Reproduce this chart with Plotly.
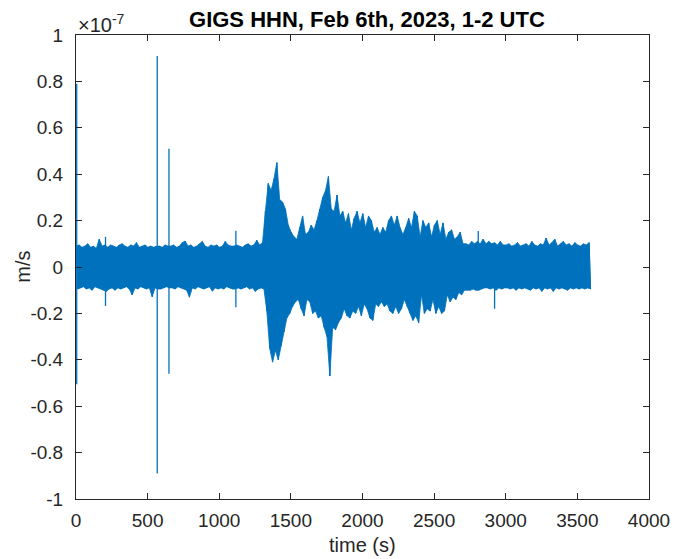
import plotly.graph_objects as go

# GIGS HHN velocity record, Feb 6th 2023, 01:00-02:00 UTC.
# Per 20 s window: peak (upper) and trough (lower) ground velocity in nm/s,
# with isolated impulsive glitches listed separately below.
window_start_s = [20 * i for i in range(180)]

upper_nm_s = [
    9.0, 9.5, 8.5, 9.0, 10.0, 8.5, 9.0, 8.0, 12.0, 9.0,
    9.5, 8.5, 9.5, 9.0, 8.5, 9.5, 10.0, 9.0, 8.5, 9.5,
    9.0, 10.5, 8.5, 9.0, 9.5, 8.5, 9.0, 8.5, 9.0, 9.0,
    8.5, 9.5, 9.0, 9.0, 9.5, 8.5, 9.0, 10.5, 11.2, 9.0,
    9.5, 8.5, 9.0, 10.0, 11.0, 9.0, 8.5, 9.5, 9.0, 9.5,
    8.5, 9.0, 11.0, 9.5, 9.0, 9.0, 9.5, 9.0, 8.5, 9.5,
    10.0, 9.0, 9.5, 11.5, 9.5, 10.5,
    # P / S arrivals of the Kahramanmaras sequence
    24.0, 36.0, 33.0, 38.0, 45.0, 29.0, 28.0, 25.0, 18.0, 15.0,
    13.0, 12.0, 17.0, 22.0, 14.0, 15.0, 18.0, 16.0, 20.0, 25.0,
    30.0, 33.0, 39.0, 25.0, 24.0, 31.0, 22.0, 24.0, 19.0, 23.0,
    16.0, 21.0, 24.0, 19.0, 23.0, 17.0, 22.0, 20.0, 15.0, 17.0,
    14.0, 17.0, 15.0, 20.0, 22.0, 18.0, 22.0, 17.0, 14.0, 17.0,
    21.0, 17.0, 24.0, 22.0, 13.0, 20.0, 17.0, 19.0, 13.0, 18.0,
    20.0, 14.0, 19.0, 12.0, 15.0, 16.0, 12.0, 13.0, 15.0, 10.0,
    10.0, 9.5, 11.0, 10.0, 11.0, 10.0, 12.0, 10.0, 11.0, 10.0,
    10.5, 9.5, 11.0, 9.5,
    # coda
    9.5, 10.0, 9.0, 9.5, 10.5, 9.0, 9.5, 10.0, 9.0, 11.0,
    9.5, 9.0, 10.0, 9.5, 12.5, 9.5, 10.5, 12.0, 9.0, 10.0,
    11.0, 9.5, 10.0, 9.0, 10.5, 9.5, 9.0, 10.0, 9.5, 10.5,
]

lower_nm_s = [
    -9.5, -9.0, -8.5, -9.5, -9.0, -10.0, -8.5, -9.0, -9.5, -10.0,
    -10.5, -9.5, -9.0, -10.0, -9.0, -9.5, -9.0, -8.5, -9.5, -12.0,
    -9.0, -9.5, -8.5, -9.0, -9.5, -9.0, -12.8, -9.0, -9.5, -9.5,
    -9.0, -8.5, -9.0, -9.0, -9.5, -8.5, -9.0, -9.5, -10.0, -13.0,
    -9.0, -9.5, -8.5, -9.0, -9.5, -9.0, -8.5, -10.4, -9.0, -9.5,
    -9.0, -9.5, -8.5, -9.0, -9.5, -9.5, -9.0, -9.5, -9.0, -8.5,
    -9.5, -9.0, -10.5, -9.5, -9.0, -9.5,
    -19.0, -35.0, -41.0, -36.0, -40.0, -34.0, -28.0, -22.0, -20.0, -17.0,
    -15.0, -14.0, -18.0, -21.0, -14.0, -15.0, -20.0, -19.0, -22.0, -21.0,
    -26.0, -30.0, -47.0, -26.0, -27.0, -24.0, -22.0, -18.0, -21.0, -22.0,
    -19.0, -20.0, -17.0, -21.0, -16.0, -18.0, -22.0, -23.0, -16.0, -17.0,
    -15.0, -17.0, -16.0, -19.0, -20.0, -17.0, -20.0, -18.0, -14.0, -17.0,
    -20.0, -23.0, -21.0, -24.0, -12.0, -20.0, -18.0, -19.0, -14.0, -20.0,
    -17.0, -20.0, -19.0, -12.0, -15.0, -13.0, -14.0, -11.0, -12.0, -10.0,
    -10.0, -10.0, -9.5, -10.0, -10.0, -9.5, -9.0, -9.0, -9.5, -9.0,
    -10.0, -9.0, -9.5, -9.0,
    -9.0, -9.5, -9.0, -10.0, -9.0, -9.5, -9.0, -9.5, -10.0, -9.0,
    -9.5, -9.0, -10.5, -9.0, -9.5, -9.0, -10.5, -9.0, -9.5, -9.0,
    -9.5, -10.0, -9.0, -9.5, -9.0, -9.5, -9.0, -9.5, -9.0, -9.5,
]

# Impulsive glitches (time in s, peak and trough in nm/s)
spike_time_s = [5, 206, 567, 649, 1116, 2808, 2922]
spike_max_nm_s = [79.0, 13.0, 91.0, 51.0, 15.6, 15.5, 10.0]
spike_min_nm_s = [-50.5, -16.8, -89.0, -46.0, -17.3, -10.0, -18.0]

x_ticks = [0, 500, 1000, 1500, 2000, 2500, 3000, 3500, 4000]
y_ticks = [-1, -0.8, -0.6, -0.4, -0.2, 0, 0.2, 0.4, 0.6, 0.8, 1]
y_tick_labels = ["-1", "-0.8", "-0.6", "-0.4", "-0.2", "0",
                 "0.2", "0.4", "0.6", "0.8", "1"]

BLUE = "#0072BD"
AX = "#262626"
FONT = "Liberation Sans, Arial, Helvetica, sans-serif"
SCALE = 100.0  # nm/s per 1e-7 m/s

# Envelope band: peaks forward, troughs backward
band_t = [t0 + 2 for t0 in window_start_s] + [t0 + 12 for t0 in window_start_s][::-1]
band_v = [u / SCALE for u in upper_nm_s] + [l / SCALE for l in lower_nm_s][::-1]

# Peak-trough trace inside each window
zz_t, zz_v = [], []
for t0, hi, lo in zip(window_start_s, upper_nm_s, lower_nm_s):
    zz_t += [t0 + 2, t0 + 12]
    zz_v += [hi / SCALE, lo / SCALE]

# Glitches as vertical strokes
sp_t, sp_v = [], []
for ts, hi, lo in zip(spike_time_s, spike_max_nm_s, spike_min_nm_s):
    sp_t += [ts, ts, None]
    sp_v += [hi / SCALE, lo / SCALE, None]

fig = go.Figure()
fig.add_trace(go.Scatter(
    x=band_t, y=band_v, mode="lines", fill="toself", fillcolor=BLUE,
    line=dict(color=BLUE, width=0.8, simplify=False),
    hoverinfo="skip", showlegend=False,
))
fig.add_trace(go.Scatter(
    x=zz_t, y=zz_v, mode="lines",
    line=dict(color=BLUE, width=1, simplify=False),
    hoverinfo="skip", showlegend=False,
))
fig.add_trace(go.Scatter(
    x=sp_t, y=sp_v, mode="lines",
    line=dict(color=BLUE, width=1.3, simplify=False),
    hoverinfo="skip", showlegend=False,
))

axis_common = dict(
    showgrid=False, zeroline=False, showline=True, linecolor=AX, linewidth=1,
    mirror="ticks", ticks="inside", ticklen=6, tickcolor=AX,
    tickfont=dict(family=FONT, size=19, color=AX),
)

fig.update_layout(
    width=682, height=559,
    margin=dict(l=76, r=23, t=35, b=60),
    paper_bgcolor="white", plot_bgcolor="white",
    title=dict(
        text="GIGS HHN, Feb 6th, 2023, 1-2 UTC",
        font=dict(family=FONT, size=22, color="black", weight="bold"),
        x=0.538, xanchor="center", y=1 - 19 / 559, yanchor="middle",
    ),
    xaxis=dict(range=[0, 4000], tickvals=x_ticks, ticklabelstandoff=4,
               **axis_common),
    yaxis=dict(range=[-1, 1], tickvals=y_ticks, ticktext=y_tick_labels,
               ticklabelstandoff=8, **axis_common),
    annotations=[
        dict(text="time (s)", xref="paper", yref="paper", x=0.5, y=-0.1,
             xanchor="center", yanchor="middle", showarrow=False,
             font=dict(family=FONT, size=20, color=AX)),
        dict(text="m/s", xref="paper", yref="paper", x=-0.093, y=0.5,
             xanchor="center", yanchor="middle", textangle=-90, showarrow=False,
             font=dict(family=FONT, size=20, color=AX)),
        dict(text="×10<sup>-7</sup>", xref="paper", yref="paper", x=0.0, y=1.0,
             xanchor="left", yanchor="bottom", yshift=-3, showarrow=False,
             font=dict(family=FONT, size=20, color=AX)),
    ],
)

fig.write_html("out.html")
